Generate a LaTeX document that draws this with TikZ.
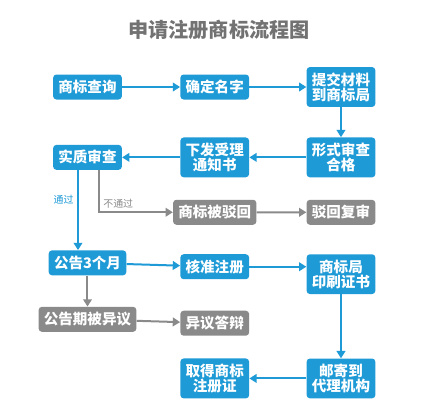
\documentclass[tikz,border=0pt]{standalone}
\usepackage{fontspec}
\setmainfont{Noto Sans CJK SC}
\usetikzlibrary{positioning, arrows.meta}

\definecolor{flowblue}{HTML}{1E9AD6}
\definecolor{flowgray}{HTML}{8A8A8A}
\definecolor{titlegray}{HTML}{727272}

\tikzset{
  flowbox/.style={rounded corners=0.1cm, text=white,
    font=\fontsize{12.4}{13}\selectfont\bfseries, align=center,
    minimum width=2.04cm, minimum height=0.75cm,
    inner xsep=0.16cm, inner ysep=0.16cm},
  bluebox/.style={flowbox, fill=flowblue},
  graybox/.style={flowbox, fill=flowgray},
  flow/.style={-{Triangle[length=0.22cm,width=0.26cm]}, line width=0.06cm},
  blueflow/.style={flow, color=flowblue},
  grayflow/.style={flow, color=flowgray},
  note/.style={font=\fontsize{8.5}{9}\selectfont, inner sep=0.1cm}
}

\begin{document}
\begin{tikzpicture}[node distance=0.9cm and 1.71cm]
  \useasboundingbox (-2.625,2.61) rectangle (10.395,-9.39);
  \node[text=titlegray, font=\fontsize{17.2}{18}\selectfont\bfseries] (title) at (3.945,1.71) {申请注册商标流程图};
  \node[bluebox]                         (query)     {商标查询};
  \node[bluebox, right=1.74cm of query]  (name)      {确定名字};
  \node[bluebox, right=of name]          (submit)    {提交材料\\到商标局};
  \node[bluebox, below=of submit]        (formal)    {形式审查\\合格};
  \node[bluebox, left=of formal]         (notice)    {下发受理\\通知书};
  \node[bluebox, left=1.74cm of notice]  (exam)      {实质审查};
  \node[graybox, below=0.66cm of notice] (reject)    {商标被驳回};
  \node[graybox, below=0.66cm of formal] (review)    {驳回复审};
  \node[bluebox, below=2.4cm of exam]    (announce)  {公告3个月};
  \node[bluebox, below=0.87cm of reject] (approve)   {核准注册};
  \node[bluebox, below=0.87cm of review] (print)     {商标局\\印刷证书};
  \node[graybox, below=0.93cm of announce] (objection) {公告期被异议};
  \node[graybox, below=0.93cm of approve]  (defense)   {异议答辩};
  \node[bluebox, below=1.92cm of print]  (mail)      {邮寄到\\代理机构};
  \node[bluebox, left=of mail]           (obtain)    {取得商标\\注册证};
  \path[blueflow]
     (query) edge (name)
      (name) edge (submit)
    (submit) edge (formal)
    (formal) edge (notice)
    (notice) edge (exam)
  (announce) edge (approve)
   (approve) edge (approve -| print.west)
     (print) edge (mail)
      (mail) edge (obtain);
  \draw[blueflow] ([xshift=-0.285cm]exam.south) -- ([xshift=-0.285cm]exam.south |- announce.north)
    node[note, text=flowblue, pos=0.375, left] {通过};
  \draw[grayflow] ([xshift=0.345cm]exam.south) |- (reject)
    node[note, text=flowgray, pos=0.5, anchor=south west] {不通过};
  \path[grayflow]
    (reject) edge (review)
    (announce.south) edge (announce.south |- objection.north)
    (objection) edge (defense);
\end{tikzpicture}
\end{document}
